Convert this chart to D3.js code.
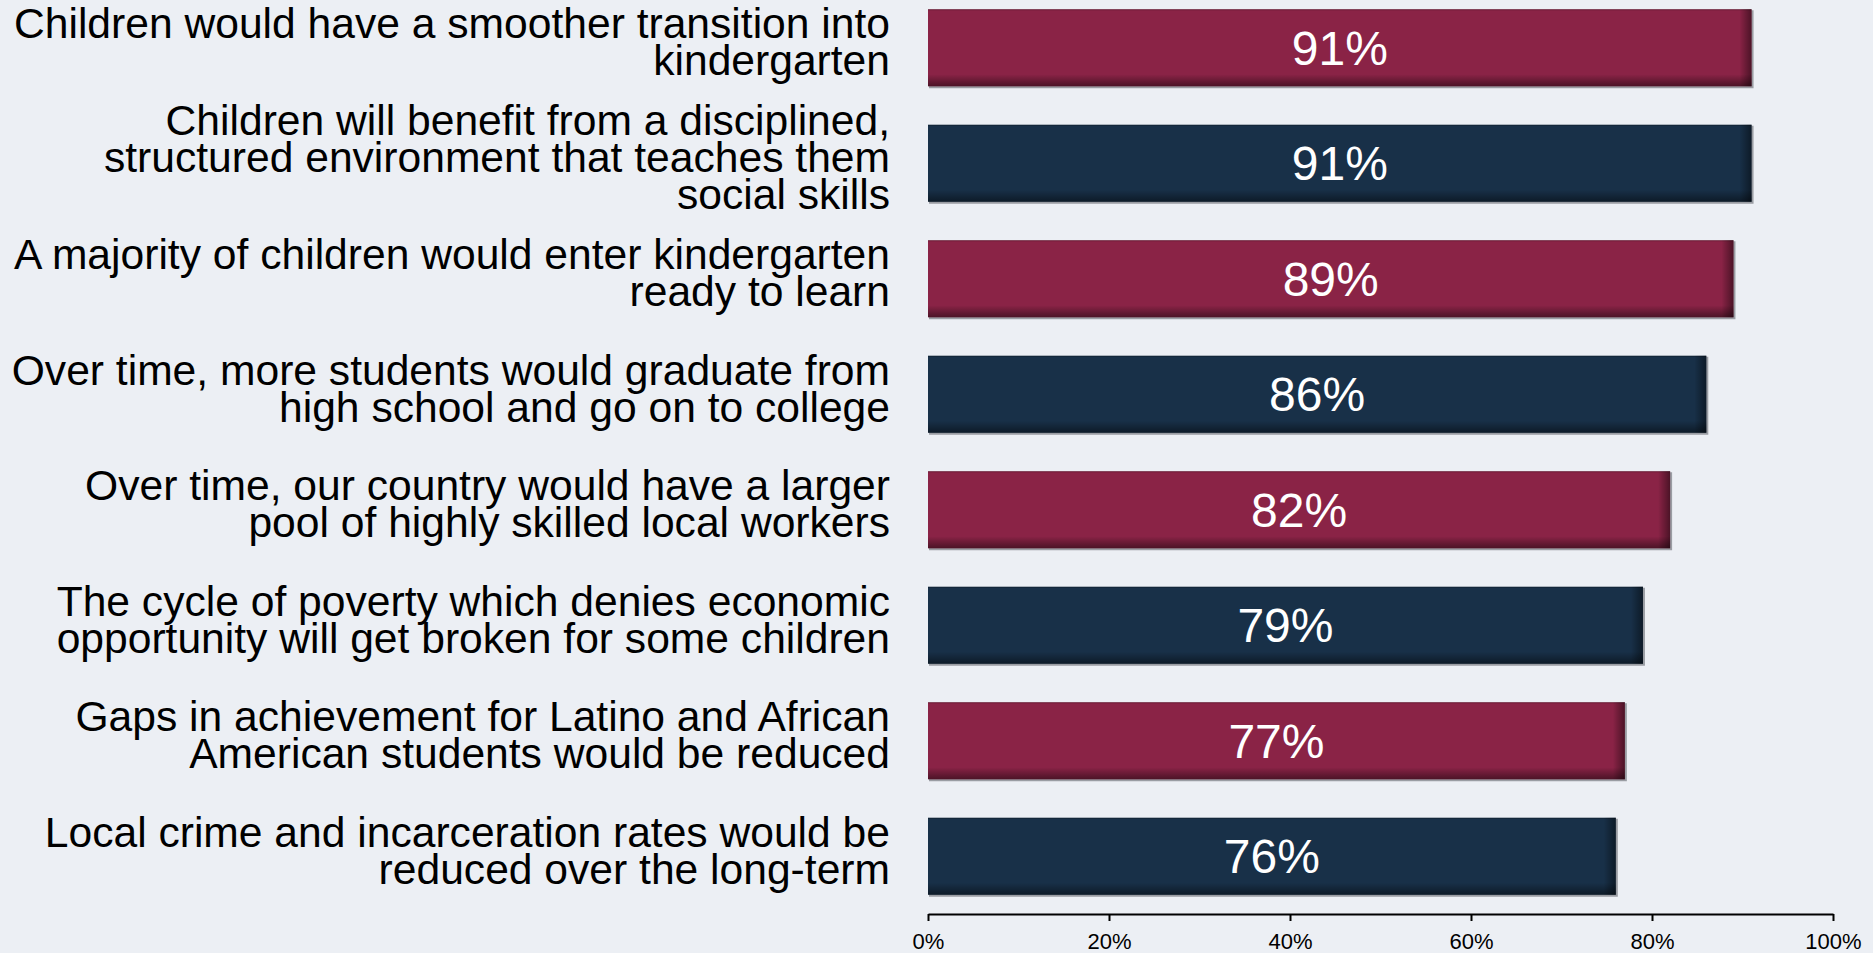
<!DOCTYPE html>
<html>
<head>
<meta charset="utf-8">
<script src="https://cdn.jsdelivr.net/npm/d3@7"></script>
<style>
  html, body { margin: 0; padding: 0; background: #eceff4; }
  svg { display: block; font-family: "Liberation Sans", Arial, sans-serif; }
</style>
</head>
<body>
<svg id="chart" width="1873" height="953"></svg>
<script>
const categories = [
  ["Children would have a smoother transition into", "kindergarten"],
  ["Children will benefit from a disciplined,", "structured environment that teaches them", "social skills"],
  ["A majority of children would enter kindergarten", "ready to learn"],
  ["Over time, more students would graduate from", "high school and go on to college"],
  ["Over time, our country would have a larger", "pool of highly skilled local workers"],
  ["The cycle of poverty which denies economic", "opportunity will get broken for some children"],
  ["Gaps in achievement for Latino and African", "American students would be reduced"],
  ["Local crime and incarceration rates would be", "reduced over the long-term"]
];
const values = [91, 91, 89, 86, 82, 79, 77, 76];
const barColors = ["#8a2346", "#183048"];
const tickValues = [0, 20, 40, 60, 80, 100];
const tickLabels = ["0%", "20%", "40%", "60%", "80%", "100%"];

const svg = d3.select("#chart");
const W = 1873, H = 953;
svg.append("rect").attr("width", W).attr("height", H).attr("fill", "#eceff4");

const x = d3.scaleLinear().domain([0, 100]).range([928, 1833]);
const ids = categories.map((c, i) => "c" + i);
const y = d3.scaleBand().domain(ids).range([-10, 914]).paddingInner(1/3).paddingOuter(1/6);

const defs = svg.append("defs");
const gv = defs.append("linearGradient").attr("id", "shadeV").attr("x1", 0).attr("y1", 0).attr("x2", 0).attr("y2", 1);
gv.append("stop").attr("offset", 0).attr("stop-color", "#000").attr("stop-opacity", 0);
gv.append("stop").attr("offset", 1).attr("stop-color", "#000").attr("stop-opacity", 0.45);
const gh = defs.append("linearGradient").attr("id", "shadeH").attr("x1", 0).attr("y1", 0).attr("x2", 1).attr("y2", 0);
gh.append("stop").attr("offset", 0).attr("stop-color", "#000").attr("stop-opacity", 0);
gh.append("stop").attr("offset", 1).attr("stop-color", "#000").attr("stop-opacity", 0.45);

const bars = svg.append("g").selectAll("g").data(values).join("g");
const bw = y.bandwidth();
// drop shadow
bars.append("rect")
  .attr("x", (d, i) => x(0) + 1)
  .attr("y", (d, i) => y(ids[i]) + 1)
  .attr("width", d => x(d) - x(0) + 1)
  .attr("height", bw + 1)
  .attr("fill", "#9a9da3");
bars.append("rect")
  .attr("x", x(0))
  .attr("y", (d, i) => y(ids[i]))
  .attr("width", d => x(d) - x(0))
  .attr("height", bw)
  .attr("fill", (d, i) => barColors[i % 2]);
// right inner shade
bars.append("rect")
  .attr("x", d => x(d) - 12)
  .attr("y", (d, i) => y(ids[i]))
  .attr("width", 12)
  .attr("height", bw)
  .attr("fill", "url(#shadeH)");
// bottom inner shade
bars.append("rect")
  .attr("x", x(0))
  .attr("y", (d, i) => y(ids[i]) + bw - 12)
  .attr("width", d => x(d) - x(0))
  .attr("height", 12)
  .attr("fill", "url(#shadeV)");
// top edge line
bars.append("rect")
  .attr("x", x(0))
  .attr("y", (d, i) => y(ids[i]))
  .attr("width", d => x(d) - x(0))
  .attr("height", 1)
  .attr("fill", "#000").attr("fill-opacity", 0.25);

// value labels
bars.append("text")
  .attr("x", d => (x(0) + x(d)) / 2)
  .attr("y", (d, i) => y(ids[i]) + bw / 2 + 17)
  .attr("text-anchor", "middle")
  .attr("fill", "#ffffff")
  .attr("font-size", 48)
  .text(d => d + "%");

// category labels
const lh = 37;
const labels = svg.append("g").selectAll("text").data(categories).join("text")
  .attr("text-anchor", "end")
  .attr("font-size", 42.6)
  .attr("fill", "#000");
labels.each(function(lines, i) {
  const cy = y(ids[i]) + bw / 2;
  const first = cy - (lines.length - 1) * lh / 2 + 9;
  d3.select(this).selectAll("tspan").data(lines).join("tspan")
    .attr("x", 890)
    .attr("y", (l, j) => first + j * lh)
    .text(l => l);
});

// axis
const axis = d3.axisBottom(x).tickValues(tickValues).tickFormat((d, i) => tickLabels[i]).tickSize(7).tickSizeOuter(0);
const ag = svg.append("g").attr("transform", "translate(0,914)").call(axis);
ag.select(".domain").attr("stroke", "#000").attr("stroke-width", 2);
ag.selectAll(".tick line").attr("stroke", "#000").attr("stroke-width", 2);
ag.selectAll(".tick text").attr("font-size", 22).attr("fill", "#000")
  .attr("font-family", "Liberation Sans, Arial, sans-serif")
  .attr("dy", null).attr("y", 35);
</script>
</body>
</html>
